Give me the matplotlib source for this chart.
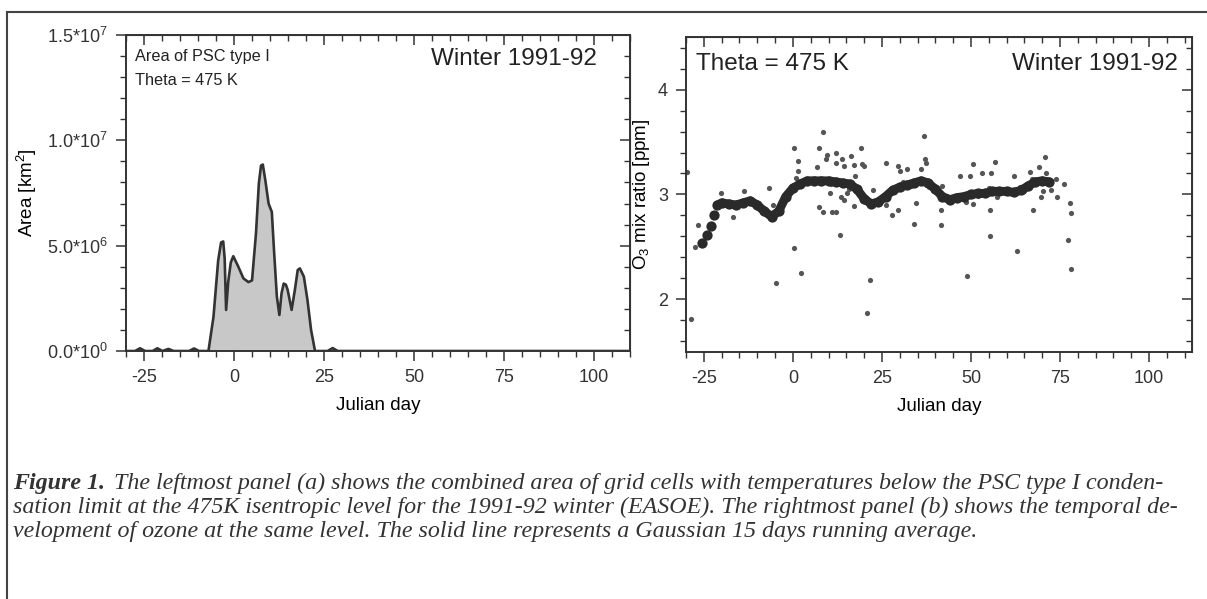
import matplotlib.pyplot as plt
from matplotlib.lines import Line2D
from matplotlib.ticker import MultipleLocator, FixedLocator

# --- data ---
# (a) area of PSC type I, km^2
area_days = [-30, -27.5, -26.1, -24.7, -22.6, -21.3, -19.9, -18.2, -16.8, -12.5, -11.1, -9.7,
             -7.1, -5.7, -4.4, -3.6, -3.0, -2.6, -2.2, -1.6, -0.9, -0.2, 1.2, 2.6, 4.0, 5.0,
             6.1, 6.9, 7.5, 8.0, 8.7, 9.6, 10.5, 11.1, 11.9, 12.6, 13.2, 13.8, 14.4, 14.9,
             16.0, 16.9, 17.7, 18.3, 19.4, 20.4, 21.4, 22.5, 26.0, 27.4, 28.8, 110]
area_km2 = [0, 0, 1.3e5, 0, 0, 1.3e5, 0, 1.0e5, 0, 0, 1.2e5, 0,
            0, 1.63e6, 4.3e6, 5.15e6, 5.2e6, 4.4e6, 1.95e6, 3.3e6, 4.2e6, 4.5e6, 4.0e6, 3.45e6, 3.27e6, 3.35e6,
            5.58e6, 7.96e6, 8.8e6, 8.85e6, 8.1e6, 7.0e6, 6.6e6, 4.8e6, 2.58e6, 1.71e6, 2.74e6, 3.2e6, 3.15e6, 2.9e6,
            1.95e6, 2.9e6, 3.85e6, 3.92e6, 3.53e6, 2.42e6, 1.0e6, 0, 0, 1.4e5, 0, 0]

# (b) ozone mixing ratio observations, ppm
o3_days = [-29.7, -27.5, -26.7, -20.1, -16.8, -13.6, -6.6, -5.7, -4.7, -28.5,
           0.4, 0.4, 1.3, 1.3, 0.9, 2.4, 6.9, 7.3, 8.4, 7.3, 8.5, 9.2, 9.6, 10.3,
           11.0, 12.0, 12.0, 12.2, 13.2, 13.8, 14.3, 13.5, 14.3, 15.2, 16.2, 17.1,
           17.1, 17.5, 19.2, 19.4, 19.9, 21.7, 20.9, 22.4, 26.1, 26.1, 27.7, 29.6,
           29.6, 30.1, 31.9, 34.0, 34.7, 35.9, 36.8, 37.0, 37.5, 41.7, 41.7, 41.9,
           46.8, 48.9, 49.6, 50.5, 48.6, 50.5, 53.0, 55.2, 55.3, 55.4, 55.7, 56.8,
           57.3, 62.2, 62.9, 63.8, 66.5, 67.0, 67.5, 69.2, 69.7, 70.2, 70.8, 71.0,
           72.4, 74.0, 74.2, 76.1, 77.2, 77.8, 78.1, 78.1,
           3.5, 5.0, 10.8, 15.8, 18.4, 24.5, 28.3, 31.0, 33.2, 38.3, 43.3, 45.0,
           52.0, 58.5, 60.5, 64.8, 68.3, 24.0, 26.7, 44.2, 60.0, 66.0]
o3_ppm = [3.21, 2.50, 2.71, 3.01, 2.79, 3.03, 3.06, 2.90, 2.16, 1.81,
          3.44, 2.49, 3.32, 3.22, 3.16, 2.25, 3.26, 3.44, 3.60, 2.88, 2.83, 3.34, 3.38, 3.01,
          2.83, 2.83, 3.40, 3.30, 2.61, 3.34, 3.27, 2.98, 2.95, 3.01, 3.37, 3.28,
          2.89, 3.18, 3.44, 3.29, 3.27, 2.19, 1.87, 3.04, 3.30, 2.90, 2.80, 3.27,
          2.85, 3.22, 3.24, 2.72, 2.92, 3.24, 3.56, 3.34, 3.30, 2.85, 2.71, 3.08,
          3.18, 2.22, 3.18, 3.29, 2.93, 2.91, 3.20, 3.06, 2.85, 2.60, 3.20, 3.31,
          2.98, 3.18, 2.46, 3.07, 3.21, 3.15, 2.85, 3.26, 2.98, 3.03, 3.36, 3.20,
          3.04, 3.15, 2.98, 3.10, 2.57, 2.92, 2.82, 2.29,
          3.12, 3.15, 3.10, 3.05, 3.02, 2.96, 3.06, 3.12, 3.08, 3.07, 2.99, 2.97,
          2.99, 3.04, 3.02, 3.03, 3.10, 2.93, 3.00, 2.96, 3.02, 3.06]

# Gaussian 15-day running average
avg_days = [-25.4, -24.2, -23.1, -22.1, -21.2, -20, -18, -16, -14, -12, -10, -8, -6, -4, -2,
            0, 2, 4, 6, 8, 10, 12, 14, 16, 18, 20, 22, 24, 26, 28, 30, 32, 34, 36, 38,
            40, 42, 44, 46, 48, 50, 52, 54, 56, 58, 60, 62, 64, 66, 68, 70, 72]
avg_ppm = [2.54, 2.61, 2.70, 2.80, 2.90, 2.92, 2.91, 2.90, 2.92, 2.94, 2.90, 2.84, 2.79, 2.84, 2.98,
           3.06, 3.10, 3.13, 3.13, 3.13, 3.13, 3.12, 3.11, 3.10, 3.05, 2.96, 2.91, 2.93, 2.98, 3.04,
           3.07, 3.09, 3.11, 3.13, 3.11, 3.05, 2.98, 2.95, 2.97, 2.98, 3.00, 3.01, 3.01, 3.03,
           3.03, 3.03, 3.02, 3.04, 3.08, 3.12, 3.13, 3.12]

area_ticks = [0, 5e6, 1e7, 1.5e7]
area_ticklabels = ['0.0*10$^0$', '5.0*10$^6$', '1.0*10$^7$', '1.5*10$^7$']
day_ticks = [-25, 0, 25, 50, 75, 100]

caption = [
    "The leftmost panel (a) shows the combined area of grid cells with temperatures below the PSC type I conden-",
    "sation limit at the 475K isentropic level for the 1991-92 winter (EASOE). The rightmost panel (b) shows the temporal de-",
    "velopment of ozone at the same level. The solid line represents a Gaussian 15 days running average.",
]

sans = 'Liberation Sans'
plt.rcParams['font.family'] = [sans, 'DejaVu Sans']
plt.rcParams['mathtext.fontset'] = 'custom'
plt.rcParams['mathtext.rm'] = sans
plt.rcParams['mathtext.it'] = sans
plt.rcParams['axes.unicode_minus'] = False
plt.rcParams['text.color'] = '#222222'
plt.rcParams['axes.edgecolor'] = '#333333'
plt.rcParams['xtick.color'] = '#333333'
plt.rcParams['ytick.color'] = '#333333'

fig = plt.figure(figsize=(12.07, 5.99), dpi=100)
axL = fig.add_axes([0.1044, 0.414, 0.4176, 0.5276])
axR = fig.add_axes([0.5684, 0.4124, 0.419, 0.5258])


def style_axes(ax, xmaj, xmin, ymaj, ymin):
    for s in ax.spines.values():
        s.set_linewidth(1.4)
    ax.xaxis.set_major_locator(FixedLocator(xmaj))
    ax.xaxis.set_minor_locator(MultipleLocator(xmin))
    ax.yaxis.set_major_locator(FixedLocator(ymaj))
    ax.yaxis.set_minor_locator(MultipleLocator(ymin))
    ax.tick_params(which='major', direction='out', length=7, width=1.1, labelsize=13, pad=6)
    ax.tick_params(which='minor', direction='out', length=4.3, width=1.0)
    top = ax.secondary_xaxis('top')
    top.xaxis.set_major_locator(FixedLocator(xmaj))
    top.xaxis.set_minor_locator(MultipleLocator(xmin))
    top.tick_params(which='major', direction='in', length=7, width=1.1, labeltop=False)
    top.tick_params(which='minor', direction='in', length=4.3, width=1.0)
    right = ax.secondary_yaxis('right')
    right.yaxis.set_major_locator(FixedLocator(ymaj))
    right.yaxis.set_minor_locator(MultipleLocator(ymin))
    right.tick_params(which='major', direction='in', length=7, width=1.1, labelright=False)
    right.tick_params(which='minor', direction='in', length=4.3, width=1.0)


# ---- panel (a) ----
axL.fill_between(area_days, area_km2, 0, color='#c8c8c8', lw=0)
axL.plot(area_days, area_km2, color='#333333', lw=1.9)
axL.set_xlim(-30, 110)
axL.set_ylim(0, 1.5e7)
style_axes(axL, day_ticks, 5, area_ticks, 1e6)
axL.set_yticklabels(area_ticklabels)
axL.set_xlabel('Julian day', fontsize=13.5, labelpad=8)
axL.set_ylabel('Area [km$^2$]', fontsize=13.5, labelpad=6)
axL.text(0.018, 0.955, 'Area of PSC type I', transform=axL.transAxes, fontsize=11.7, va='top')
axL.text(0.018, 0.88, 'Theta = 475 K', transform=axL.transAxes, fontsize=11.7, va='top')
axL.text(0.935, 0.96, 'Winter 1991-92', transform=axL.transAxes, fontsize=17.5, va='top', ha='right')

# ---- panel (b) ----
axR.scatter(o3_days, o3_ppm, s=14, color='#555555', lw=0, zorder=2)
axR.plot(avg_days[4:], avg_ppm[4:], color='#2a2a2a', lw=6.4, solid_capstyle='round', zorder=3)
axR.plot(avg_days, avg_ppm, 'o', color='#2a2a2a', ms=7.4, mew=0, zorder=3)
axR.set_xlim(-30, 112)
axR.set_ylim(1.5, 4.5)
style_axes(axR, day_ticks, 5, [2, 3, 4], 0.2)
axR.set_yticklabels(['2', '3', '4'])
axR.set_xlabel('Julian day', fontsize=13.5, labelpad=8)
axR.set_ylabel('O$_3$ mix ratio [ppm]', fontsize=13.5, labelpad=4)
axR.text(0.02, 0.95, 'Theta = 475 K', transform=axR.transAxes, fontsize=17.5, va='top')
axR.text(0.973, 0.95, 'Winter 1991-92', transform=axR.transAxes, fontsize=17.5, va='top', ha='right')

# ---- frame and caption ----
fig.add_artist(Line2D([0.0058, 0.0058], [0, 0.98], color='#444444', lw=1.5))
fig.add_artist(Line2D([0.0058, 1.0], [0.98, 0.98], color='#444444', lw=1.5))

cap_kw = dict(family=['Liberation Serif', 'DejaVu Serif'], style='italic', fontsize=17.3, color='#333333')
fig_lbl = fig.text(0.011, 1 - 483 / 599, 'Figure 1.', weight='bold', va='center', **cap_kw)
fig.canvas.draw()
bb = fig_lbl.get_window_extent()
x0 = bb.x1 / fig.bbox.width + 0.007
fig.text(x0, 1 - 483 / 599, caption[0], va='center', **cap_kw)
fig.text(0.011, 1 - 507 / 599, caption[1], va='center', **cap_kw)
fig.text(0.011, 1 - 531 / 599, caption[2], va='center', **cap_kw)

fig.savefig('out.png', dpi=100)
